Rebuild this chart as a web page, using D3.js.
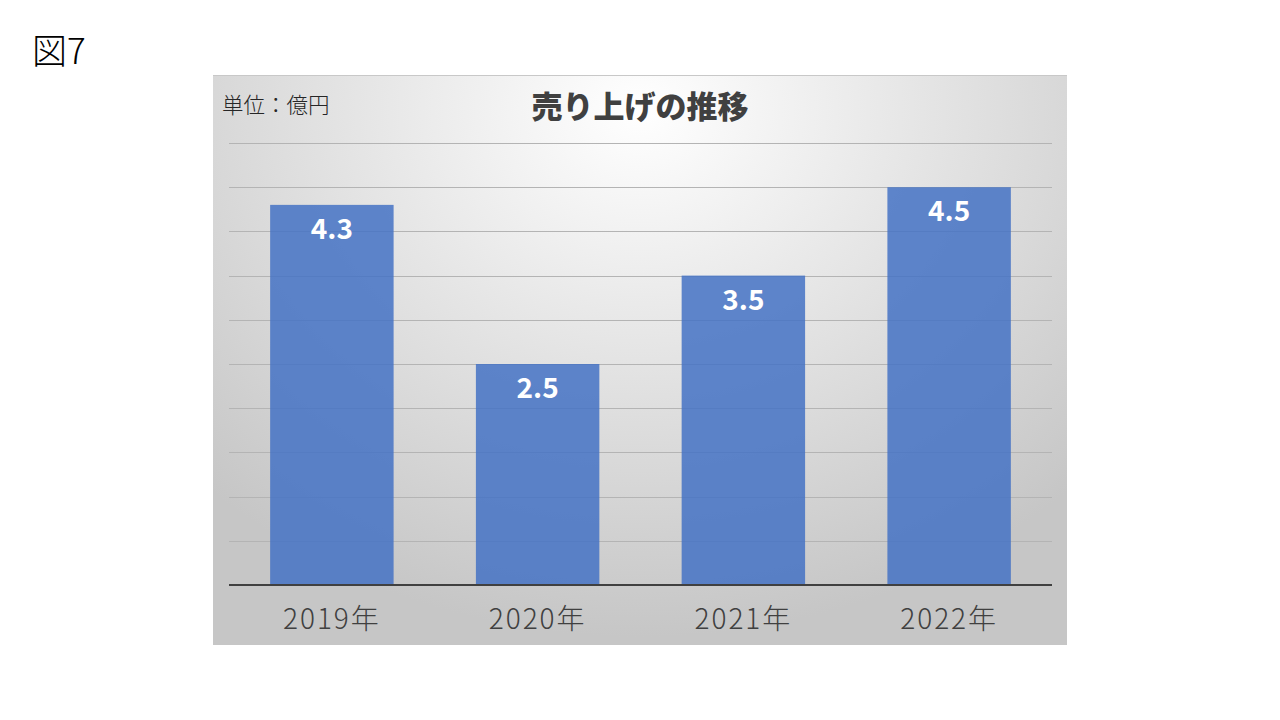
<!DOCTYPE html>
<html><head><meta charset="utf-8">
<script src="https://cdn.jsdelivr.net/npm/d3@7"></script>
<style>html,body{margin:0;padding:0;background:#fff;}svg{display:block;}</style>
</head><body>
<svg id="c" width="1280" height="720"></svg>
<script>
const categories = ["2019年","2020年","2021年","2022年"];
const values = [4.3, 2.5, 3.5, 4.5];
const gridTicks = [0.5,1,1.5,2,2.5,3,3.5,4,4.5,5];
const figLabel = "図7";
const title = "売り上げの推移";
const unitLabel = "単位：億円";

const svg = d3.select("#c");
const font = "'Noto Sans CJK JP','Noto Sans',sans-serif";

const defs = svg.append("defs");
const rg = defs.append("radialGradient").attr("id","bg")
  .attr("gradientUnits","userSpaceOnUse")
  .attr("cx",640).attr("cy",110).attr("r",620)
  .attr("gradientTransform","translate(640,110) scale(1,0.85) translate(-640,-110)");
rg.append("stop").attr("offset","0").attr("stop-color","#ffffff");
rg.append("stop").attr("offset","1").attr("stop-color","#c6c6c6");

const box = {x:213, y:75, w:854, h:570};
svg.append("rect").attr("x",box.x).attr("y",box.y).attr("width",box.w).attr("height",box.h)
  .attr("fill","url(#bg)");
svg.append("line").attr("x1",box.x).attr("x2",box.x+box.w).attr("y1",box.y+0.5).attr("y2",box.y+0.5)
  .attr("stroke","#c8c8c8").attr("stroke-width",1);

svg.append("text").attr("x",32).attr("y",64).attr("font-family",font).attr("font-size",35)
  .attr("font-weight",300).attr("fill","#000").text(figLabel);

const x = d3.scaleBand().domain(categories).range([229,1052]).paddingInner(0.4).paddingOuter(0.2);
const y = d3.scaleLinear().domain([0,5]).range([585,143]);

const g = svg.append("g");
g.append("g").selectAll("line").data(gridTicks).join("line")
  .attr("x1",229).attr("x2",1052)
  .attr("y1",d=>Math.round(y(d))+0.5).attr("y2",d=>Math.round(y(d))+0.5)
  .attr("stroke","#b4b4b4").attr("stroke-width",1);

g.append("g").selectAll("rect").data(values).join("rect")
  .attr("x",(d,i)=>x(categories[i])).attr("width",x.bandwidth())
  .attr("y",d=>y(d)).attr("height",d=>y(0)-y(d))
  .attr("fill","#4472C4").attr("fill-opacity",0.85);

g.append("line").attr("x1",229).attr("x2",1052).attr("y1",585).attr("y2",585)
  .attr("stroke","#404040").attr("stroke-width",2);

g.append("g").selectAll("text").data(values).join("text")
  .attr("x",(d,i)=>x(categories[i])+x.bandwidth()/2).attr("y",d=>y(d)+34)
  .attr("text-anchor","middle").attr("font-family",font).attr("font-weight","bold")
  .attr("font-size",28).attr("fill","#fff").text(d=>d.toFixed(1));

const xAxis = d3.axisBottom(x).tickSize(0).tickPadding(0);
const ax = svg.append("g").attr("transform","translate(0,585)").call(xAxis);
ax.select(".domain").remove();
ax.selectAll("text").attr("font-family",font).attr("font-size",28).attr("font-weight",300)
  .attr("fill","#404040").attr("letter-spacing",2)
  .attr("dy",null).attr("y",44);

svg.append("text").attr("x",640).attr("y",118).attr("text-anchor","middle")
  .attr("font-family",font).attr("font-weight",900).attr("font-size",31)
  .attr("fill","#404040").text(title);
svg.append("text").attr("x",222).attr("y",113)
  .attr("font-family",font).attr("font-size",21.5).attr("font-weight",300).attr("fill","#262626").text(unitLabel);
</script>
</body></html>
